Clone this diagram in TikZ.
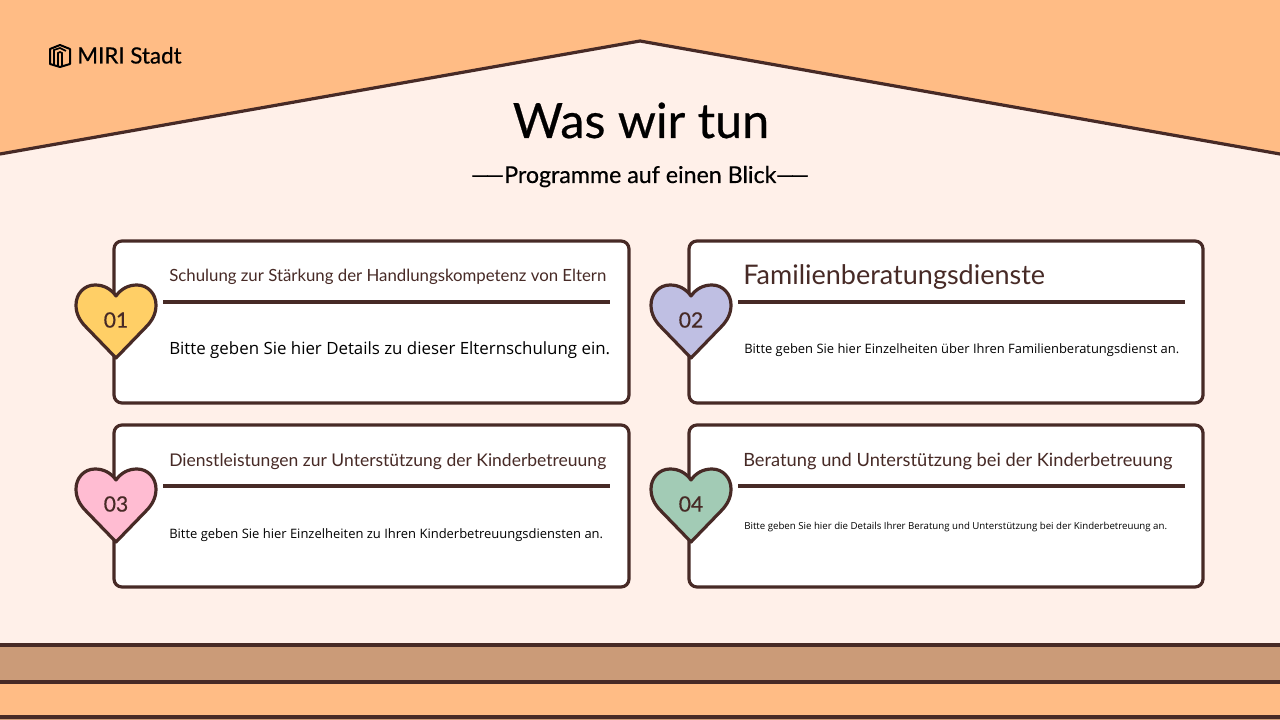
\documentclass[tikz,border=0pt]{standalone}
\usepackage{fontspec}
\setmainfont{Lato}
\newfontfamily\bodyfont{Open Sans}
\newfontfamily\midfont[FakeBold=0.5]{Lato}
\usetikzlibrary{positioning,calc}
\definecolor{roofc}{HTML}{FFBC85}
\definecolor{wallc}{HTML}{FFF0E9}
\definecolor{darkc}{HTML}{472A26}
\definecolor{floorc}{HTML}{CB9B78}
\definecolor{heartA}{HTML}{FFCF66}
\definecolor{heartB}{HTML}{BFBFE3}
\definecolor{heartC}{HTML}{FFBCD2}
\definecolor{heartD}{HTML}{A2CBB5}
\newcommand{\fs}[1]{\fontsize{#1}{#1}\selectfont}
\begin{document}
\begin{tikzpicture}[x=0.025cm,y=-0.025cm,
  outline/.style={draw=darkc,line width=0.08cm,line join=round},
  card/.style={outline,fill=white,rounded corners=0.2cm},
  rule/.style={draw=darkc,line width=0.08cm},
  head/.style={anchor=base west,inner sep=0pt,text=darkc},
  body/.style={anchor=base west,inner sep=0pt,text=black,font=\bodyfont},
  num/.style={inner sep=0pt,text=darkc,font=\midfont\fs{15}},
  pics/heart/.style={code={
    \draw[outline,fill=#1] (0,0) .. controls (-5,-7) and (-12,-11) .. (-21,-11) .. controls (-32,-11) and (-40,-2) .. (-40,9)
      .. controls (-40,18) and (-36,25) .. (-30,31) -- (0,62) -- (30,31)
      .. controls (36,25) and (40,18) .. (40,9) .. controls (40,-2) and (32,-11) .. (21,-11)
      .. controls (12,-11) and (5,-7) .. (0,0) -- cycle;
  }}]
\useasboundingbox (0,0) rectangle (1280,720);
\fill[wallc] (0,0) rectangle (1280,720);
\fill[roofc] (0,0) -- (1280,0) -- (1280,154) coordinate(RR) -- (640,41) coordinate(RT) -- (0,154) coordinate(RL) -- cycle;
\draw[rule,line join=miter] (RL) -- (RT) -- (RR);
\fill[floorc] (0,645) rectangle (1280,682);
\fill[roofc] (0,682) rectangle (1280,717);
\fill[floorc] (0,717) rectangle (1280,720);
\draw[rule] (0,645) coordinate(FA) -- (1280,645);
\draw[rule] (0,682) coordinate(FB) -- (1280,682);
\draw[rule] (0,717) coordinate(FC) -- (1280,717);

\draw[black,line width=0.05cm,line join=round] (50,49) -- (60,45) -- (70,49) -- (70,64) -- (60,67) -- (50,64) -- cycle;
\draw[black,line width=0.04cm] (54,65) -- (54,50) -- (60,48) -- (66,51) (58,66.5) -- (58,53) -- (60,52) -- (62,53) -- (62,66);
\node[anchor=base west,inner sep=0pt,text=black,font=\midfont\fs{15.9}] (logo) at (77,63.5) {MIRI Stadt};

\node[anchor=base,inner sep=0pt,text=black,font=\midfont\fs{34.5}] (title) at (641,138) {Was wir tun};
\node[anchor=base,inner sep=0pt,text=black,font=\midfont\fs{16.5}] (subtitle) at (640,183) {—\kern-2.5pt—Programme auf einen Blick—\kern-2.5pt—};

\draw[card] (114,241) rectangle (629,403);
\draw[card] (689,241) rectangle (1203,403);
\draw[card] (114,425) rectangle (629,587);
\draw[card] (689,425) rectangle (1203,587);

\draw[rule] (163,302) coordinate(LA) -- (610,302);
\draw[rule] (738,302) coordinate(LB) -- (1185,302);
\draw[rule] (163,486) coordinate(LC) -- (610,486);
\draw[rule] (738,486) coordinate(LD) -- (1185,486);

\pic at (116,296) {heart=heartA};
\pic at (691,296) {heart=heartB};
\pic at (116,480) {heart=heartC};
\pic at (691,480) {heart=heartD};

\node[num] (numA) at (116,320) {01};
\node[num] (numB) at (691,320) {02};
\node[num] (numC) at (116,504) {03};
\node[num] (numD) at (691,504) {04};

\node[head,font=\fs{11.95}] (headA) at (169,282) {Schulung zur Stärkung der Handlungskompetenz von Eltern};
\node[head,font=\fs{19.2}] (headB) at (743,285) {Familienberatungsdienste};
\node[head,font=\fs{12.45}] (headC) at (169,466) {Dienstleistungen zur Unterstützung der Kinderbetreuung};
\node[head,font=\fs{13}] (headD) at (743,466) {Beratung und Unterstützung bei der Kinderbetreuung};

\node[body,font=\bodyfont\fs{12}] (textA) at (169,355) {Bitte geben Sie hier Details zu dieser Elternschulung ein.};
\node[body,font=\bodyfont\fs{9.2}] (textB) at (744,354) {Bitte geben Sie hier Einzelheiten über Ihren Familienberatungsdienst an.};
\node[body,font=\bodyfont\fs{9.23}] (textC) at (169,538) {Bitte geben Sie hier Einzelheiten zu Ihren Kinderbetreuungsdiensten an.};
\node[body,font=\bodyfont\fs{6.88}] (textD) at (744,529) {Bitte geben Sie hier die Details Ihrer Beratung und Unterstützung bei der Kinderbetreuung an.};
\end{tikzpicture}
\end{document}
